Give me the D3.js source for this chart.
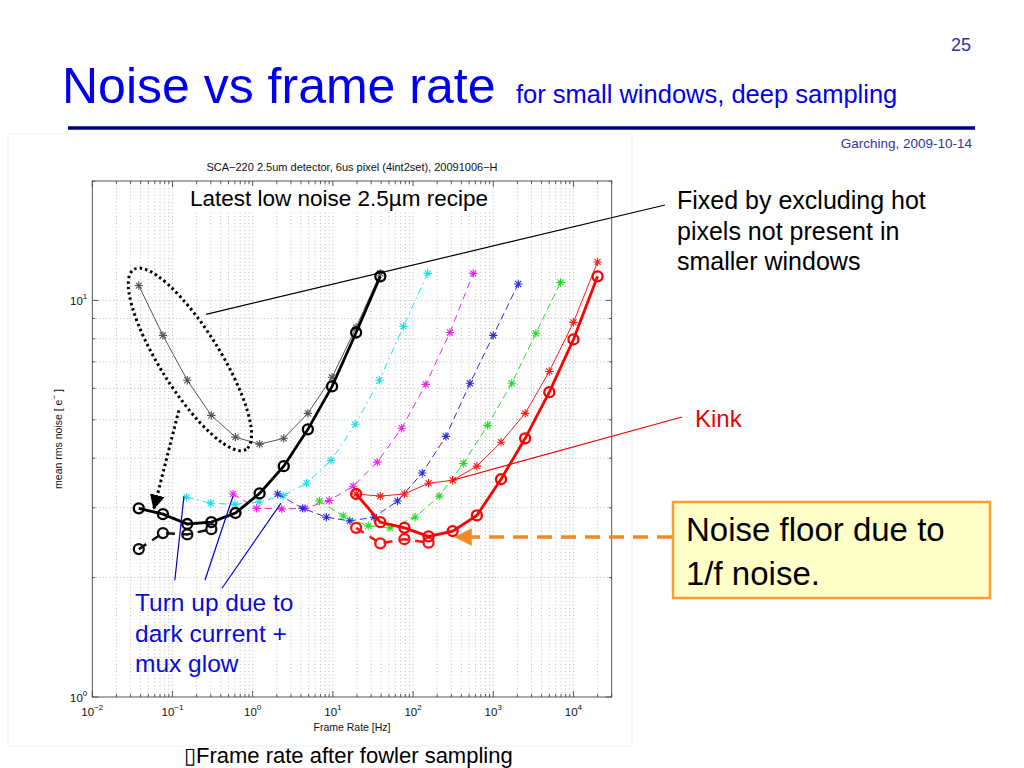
<!DOCTYPE html>
<html>
<head>
<meta charset="utf-8">
<script src="https://cdn.jsdelivr.net/npm/d3@7/dist/d3.min.js"></script>
<style>
    body { margin: 0; background: #fff; }
    svg { display: block; font-family: "Liberation Sans", Arial, sans-serif; }
</style>
</head>
<body>
<div id="chart"></div>
<script>
// ---- data ----
const xDomain = [0.01, 30000];
const yDomain = [1, 20];
const xTickValues = [0.01, 0.1, 1, 10, 100, 1000, 10000];
const xTickExps = ['\u22122', '\u22121', '0', '1', '2', '3', '4'];
const yTickValues = [1, 10];
const yTickExps = ['0', '1'];

// black / gray: full frame
const blackX = [0.038, 0.076, 0.153, 0.305, 0.61, 1.22, 2.44, 4.88, 9.77, 19.5, 39.1];
const grayStarY = [10.9, 8.16, 6.29, 5.13, 4.52, 4.34, 4.49, 5.19, 6.40, 8.55, 11.7];
const blackCircleY = [2.99, 2.89, 2.73, 2.76, 2.91, 3.26, 3.82, 4.73, 6.07, 8.30, 11.5];
const blackDashX = [0.038, 0.076, 0.153, 0.305];
const blackDashY = [2.36, 2.59, 2.57, 2.65];

const cyanX = [0.15, 0.30, 0.60, 1.2, 2.4, 4.7, 9.5, 19, 38, 76, 152];
const cyanY = [3.19, 3.08, 3.06, 3.10, 3.22, 3.46, 3.95, 4.87, 6.29, 8.6, 11.7];

const magentaX = [0.57, 1.12, 2.3, 4.5, 9.0, 17.9, 35.8, 72, 144, 288, 563];
const magentaY = [3.25, 2.99, 2.98, 2.99, 3.13, 3.40, 3.91, 4.76, 6.14, 8.30, 11.7];

const blueX = [2.05, 4.2, 8.3, 16.3, 32.5, 64, 130, 257, 513, 1000, 2050];
const blueY = [3.25, 2.99, 2.84, 2.78, 2.84, 3.12, 3.67, 4.54, 6.18, 8.16, 11.0];

const greenX = [6.8, 13.5, 27.6, 51.5, 106, 212, 423, 851, 1700, 3400, 6900];
const greenY = [3.12, 2.86, 2.70, 2.67, 2.84, 3.21, 3.88, 4.84, 6.18, 8.26, 11.1];

const redX = [19.5, 39, 78, 156, 312, 625, 1250, 2500, 5000, 10000, 20000];
const redStarY = [3.25, 3.21, 3.25, 3.46, 3.52, 3.82, 4.39, 5.19, 6.62, 8.80, 12.5];
const redCircleY = [3.25, 2.76, 2.67, 2.54, 2.62, 2.87, 3.54, 4.49, 5.87, 7.97, 11.5];
const redDashX = [19.5, 39, 78, 156];
const redDashY = [2.67, 2.44, 2.50, 2.45];

// annotation anchors in data units
const ellipseCenter = [0.165, 7.1];
const fixedLineStart = [0.262, 9.22];
const dottedArrow = [[0.12, 5.28], [0.0587, 2.99]];
const turnUpLines = [
    [[0.107, 1.97], [0.139, 3.21]],
    [[0.254, 1.97], [0.568, 3.21]],
    [[0.414, 1.88], [2.25, 3.08]]
];
const kinkStart = [312, 3.52];
const floorArrowTip = [343, 2.53];

// ---- layout ----
const W = 1024, H = 768;
const plot = { l: 92.3, r: 611.7, t: 181, b: 697 };

const svg = d3.select('#chart').append('svg')
    .attr('width', W)
    .attr('height', H);

const x = d3.scaleLog().domain(xDomain).range([plot.l, plot.r]);
const y = d3.scaleLog().domain(yDomain).range([plot.b, plot.t]);

// faint figure frame
svg.append('rect')
    .attr('x', 8).attr('y', 134).attr('width', 624).attr('height', 612)
    .attr('fill', 'none').attr('stroke', '#efefef');

// ---- slide header ----
svg.append('text').attr('x', 951).attr('y', 51)
    .attr('font-size', 18).attr('fill', '#333399').text('25');
svg.append('text').attr('x', 62).attr('y', 103)
    .attr('font-size', 50).attr('fill', '#0000ee').text('Noise vs frame rate');
svg.append('text').attr('x', 516).attr('y', 103)
    .attr('font-size', 25.5).attr('fill', '#0000ee').text('for small windows, deep sampling');
svg.append('line')
    .attr('x1', 68).attr('x2', 975).attr('y1', 128).attr('y2', 128)
    .attr('stroke', '#000080').attr('stroke-width', 3.5);
svg.append('text').attr('x', 972).attr('y', 148)
    .attr('text-anchor', 'end').attr('font-size', 13.5).attr('fill', '#333399')
    .text('Garching, 2009-10-14');

// ---- axes box + grid ----
const g = svg.append('g');

g.append('rect')
    .attr('x', plot.l).attr('y', plot.t)
    .attr('width', plot.r - plot.l).attr('height', plot.b - plot.t)
    .attr('fill', '#fff');

// minor positions for each decade
const xMinor = [];
for (let e = -2; e <= 4; e++) {
    for (let m = 1; m <= 9; m++) {
        const v = m * Math.pow(10, e);
        if (v >= xDomain[0] && v <= xDomain[1]) xMinor.push(v);
    }
}
const yMinor = [1, 2, 3, 4, 5, 6, 7, 8, 9, 10, 20];

const gridStyle = (sel) => sel
    .attr('stroke', '#a0a0a0')
    .attr('stroke-width', 0.7)
    .attr('stroke-dasharray', '1,2.5');

g.selectAll('.xgrid').data(xMinor.filter(v => v > xDomain[0] && v < xDomain[1]))
    .join('line')
    .attr('x1', d => x(d)).attr('x2', d => x(d))
    .attr('y1', plot.t).attr('y2', plot.b)
    .call(gridStyle);
g.selectAll('.ygrid').data(yMinor.filter(v => v > yDomain[0] && v < yDomain[1]))
    .join('line')
    .attr('y1', d => y(d)).attr('y2', d => y(d))
    .attr('x1', plot.l).attr('x2', plot.r)
    .call(gridStyle);

// ticks (inward, on all four sides)
const tickG = g.append('g').attr('stroke', '#333').attr('stroke-width', 0.8);
xMinor.forEach(v => {
    const len = xTickValues.includes(v) ? 6 : 3;
    tickG.append('line').attr('x1', x(v)).attr('x2', x(v)).attr('y1', plot.b).attr('y2', plot.b - len);
    tickG.append('line').attr('x1', x(v)).attr('x2', x(v)).attr('y1', plot.t).attr('y2', plot.t + len);
});
yMinor.forEach(v => {
    const len = yTickValues.includes(v) ? 6 : 3;
    tickG.append('line').attr('y1', y(v)).attr('y2', y(v)).attr('x1', plot.l).attr('x2', plot.l + len);
    tickG.append('line').attr('y1', y(v)).attr('y2', y(v)).attr('x1', plot.r).attr('x2', plot.r - len);
});

g.append('rect')
    .attr('x', plot.l).attr('y', plot.t)
    .attr('width', plot.r - plot.l).attr('height', plot.b - plot.t)
    .attr('fill', 'none').attr('stroke', '#444').attr('stroke-width', 0.9);

// tick labels "10^n"
xTickValues.forEach((v, i) => {
    const t = g.append('text')
        .attr('x', x(v)).attr('y', plot.b + 19)
        .attr('text-anchor', 'middle').attr('font-size', 11.5).attr('fill', '#111');
    t.append('tspan').text('10');
    t.append('tspan').attr('font-size', 8).attr('dy', -6).text(xTickExps[i]);
});
yTickValues.forEach((v, i) => {
    const t = g.append('text')
        .attr('x', plot.l - 5).attr('y', y(v) + 5)
        .attr('text-anchor', 'end').attr('font-size', 11.5).attr('fill', '#111');
    t.append('tspan').text('10');
    t.append('tspan').attr('font-size', 8).attr('dy', -6).text(yTickExps[i]);
});

g.append('text')
    .attr('x', (plot.l + plot.r) / 2).attr('y', plot.b + 34)
    .attr('text-anchor', 'middle').attr('font-size', 10.5).attr('fill', '#111')
    .text('Frame Rate [Hz]');

const yl = g.append('text')
    .attr('transform', `translate(62, ${(plot.t + plot.b) / 2}) rotate(-90)`)
    .attr('text-anchor', 'middle').attr('font-size', 10.5).attr('fill', '#111');
yl.append('tspan').text('mean rms noise [ e');
yl.append('tspan').attr('font-size', 8).attr('dy', -5).text('\u2212');
yl.append('tspan').attr('dy', 5).text(' ]');

g.append('text')
    .attr('x', (plot.l + plot.r) / 2).attr('y', plot.t - 10)
    .attr('text-anchor', 'middle').attr('font-size', 11).attr('fill', '#111')
    .text('SCA\u2212220 2.5um detector, 6us pixel (4int2set), 20091006\u2212H');

// ---- series ----
const zip = (xs, ys) => xs.map((v, i) => [v, ys[i]]);
const series = [
    { pts: zip(cyanX, cyanY), color: '#1ee0e8', width: 1, dash: '7,4,1.5,4', marker: 'star' },
    { pts: zip(magentaX, magentaY), color: '#ee22ee', width: 1, dash: '7,5', marker: 'star' },
    { pts: zip(blueX, blueY), color: '#2b2bdd', width: 1, dash: '7,4', marker: 'star' },
    { pts: zip(greenX, greenY), color: '#22dd22', width: 1, dash: '7,4', marker: 'star' },
    { pts: zip(blackX, grayStarY), color: '#555', width: 1, dash: null, marker: 'star' },
    { pts: zip(redX, redStarY), color: '#ff1a1a', width: 1, dash: null, marker: 'star' },
    { pts: zip(blackDashX, blackDashY), color: '#111', width: 2.5, dash: '9,7', marker: 'circle' },
    { pts: zip(redDashX, redDashY), color: '#ff1010', width: 2.5, dash: '9,7', marker: 'circle' },
    { pts: zip(blackX, blackCircleY), color: '#000', width: 2.8, dash: null, marker: 'circle' },
    { pts: zip(redX, redCircleY), color: '#ff0000', width: 2.8, dash: null, marker: 'circle' }
];

const line = d3.line().x(d => x(d[0])).y(d => y(d[1]));
const starPath = (s) => {
    const d = s * 0.72;
    return `M${-s},0H${s}M0,${-s}V${s}M${-d},${-d}L${d},${d}M${-d},${d}L${d},${-d}`;
};

series.forEach(s => {
    const sg = svg.append('g');
    sg.append('path')
        .attr('d', line(s.pts))
        .attr('fill', 'none')
        .attr('stroke', s.color)
        .attr('stroke-width', s.width)
        .attr('stroke-dasharray', s.dash);
    if (s.marker === 'star') {
        sg.selectAll('path.m').data(s.pts).join('path')
            .attr('class', 'm')
            .attr('transform', d => `translate(${x(d[0])},${y(d[1])})`)
            .attr('d', starPath(4.2))
            .attr('stroke', s.color)
            .attr('stroke-width', 1.1)
            .attr('fill', 'none');
    } else {
        sg.selectAll('circle').data(s.pts).join('circle')
            .attr('cx', d => x(d[0])).attr('cy', d => y(d[1]))
            .attr('r', 5)
            .attr('fill', 'none')
            .attr('stroke', s.color)
            .attr('stroke-width', 2.3);
    }
});

// ---- annotations ----
const ann = svg.append('g');
const P = (d) => [x(d[0]), y(d[1])];

svg.append('defs').html(`
    <marker id="arrBlack" viewBox="0 0 10 10" refX="9" refY="5" markerWidth="5" markerHeight="5" orient="auto">
        <path d="M0,0L10,5L0,10z" fill="#000"/></marker>
    <marker id="arrOrange" viewBox="0 0 10 10" refX="9" refY="5" markerWidth="5" markerHeight="5" orient="auto">
        <path d="M0,0L10,5L0,10z" fill="#f08a24"/></marker>`);

// text with white backing
const latestText = ann.append('text')
    .attr('x', 190).attr('y', 206)
    .attr('font-size', 22.5).attr('fill', '#000')
    .text('Latest low noise 2.5\u00b5m recipe');
const bb = latestText.node().getBBox();
ann.insert('rect', 'text')
    .attr('x', bb.x - 3).attr('y', bb.y).attr('width', bb.width + 6).attr('height', bb.height)
    .attr('fill', '#fff');

// dotted ellipse
const ec = P(ellipseCenter);
ann.append('ellipse')
    .attr('cx', 0).attr('cy', 0).attr('rx', 106).attr('ry', 30)
    .attr('transform', `translate(${ec[0]},${ec[1]}) rotate(58)`)
    .attr('fill', 'none').attr('stroke', '#000')
    .attr('stroke-width', 3).attr('stroke-dasharray', '2.5,3');

// dotted arrow
const da0 = P(dottedArrow[0]), da1 = P(dottedArrow[1]);
ann.append('line')
    .attr('x1', da0[0]).attr('y1', da0[1]).attr('x2', da1[0]).attr('y2', da1[1])
    .attr('stroke', '#000').attr('stroke-width', 3).attr('stroke-dasharray', '2.5,3')
    .attr('marker-end', 'url(#arrBlack)');

// "Fixed by ..." pointer
const fl = P(fixedLineStart);
ann.append('line')
    .attr('x1', fl[0]).attr('y1', fl[1]).attr('x2', 665).attr('y2', 205)
    .attr('stroke', '#000').attr('stroke-width', 1.2);
['Fixed by excluding hot', 'pixels not present in', 'smaller windows'].forEach((t, i) => {
    ann.append('text').attr('x', 677).attr('y', 209 + i * 30.5)
        .attr('font-size', 25).attr('fill', '#000').text(t);
});

// Kink
const ks = P(kinkStart);
ann.append('line')
    .attr('x1', ks[0]).attr('y1', ks[1]).attr('x2', 682).attr('y2', 417)
    .attr('stroke', '#ee0000').attr('stroke-width', 1.2);
ann.append('text').attr('x', 695).attr('y', 427)
    .attr('font-size', 24).attr('fill', '#ee0000').text('Kink');

// turn-up pointers
turnUpLines.forEach(l => {
    const a = P(l[0]), b = P(l[1]);
    ann.append('line')
        .attr('x1', a[0]).attr('y1', a[1]).attr('x2', b[0]).attr('y2', b[1])
        .attr('stroke', '#0000cc').attr('stroke-width', 1.2);
});
['Turn up due to', 'dark current +', 'mux glow'].forEach((t, i) => {
    ann.append('text').attr('x', 135).attr('y', 611 + i * 30.5)
        .attr('font-size', 24.5).attr('fill', '#0a0ad8').text(t);
});

// noise floor box + arrow
const ft = P(floorArrowTip);
ann.append('line')
    .attr('x1', 672).attr('y1', ft[1]).attr('x2', ft[0]).attr('y2', ft[1])
    .attr('stroke', '#f08a24').attr('stroke-width', 3.5).attr('stroke-dasharray', '15,9')
    .attr('marker-end', 'url(#arrOrange)');
ann.append('rect')
    .attr('x', 673).attr('y', 502).attr('width', 317).attr('height', 96)
    .attr('fill', '#ffffc8').attr('stroke', '#f5a030').attr('stroke-width', 2.5);
['Noise floor due to', '1/f noise.'].forEach((t, i) => {
    ann.append('text').attr('x', 686).attr('y', 541 + i * 44)
        .attr('font-size', 33).attr('fill', '#000').text(t);
});

// bottom caption (with the missing-glyph box of the original)
ann.append('text').attr('x', 184).attr('y', 763)
    .attr('font-size', 22).attr('fill', '#000')
    .text('\u25afFrame rate after fowler sampling');
</script>
</body>
</html>
